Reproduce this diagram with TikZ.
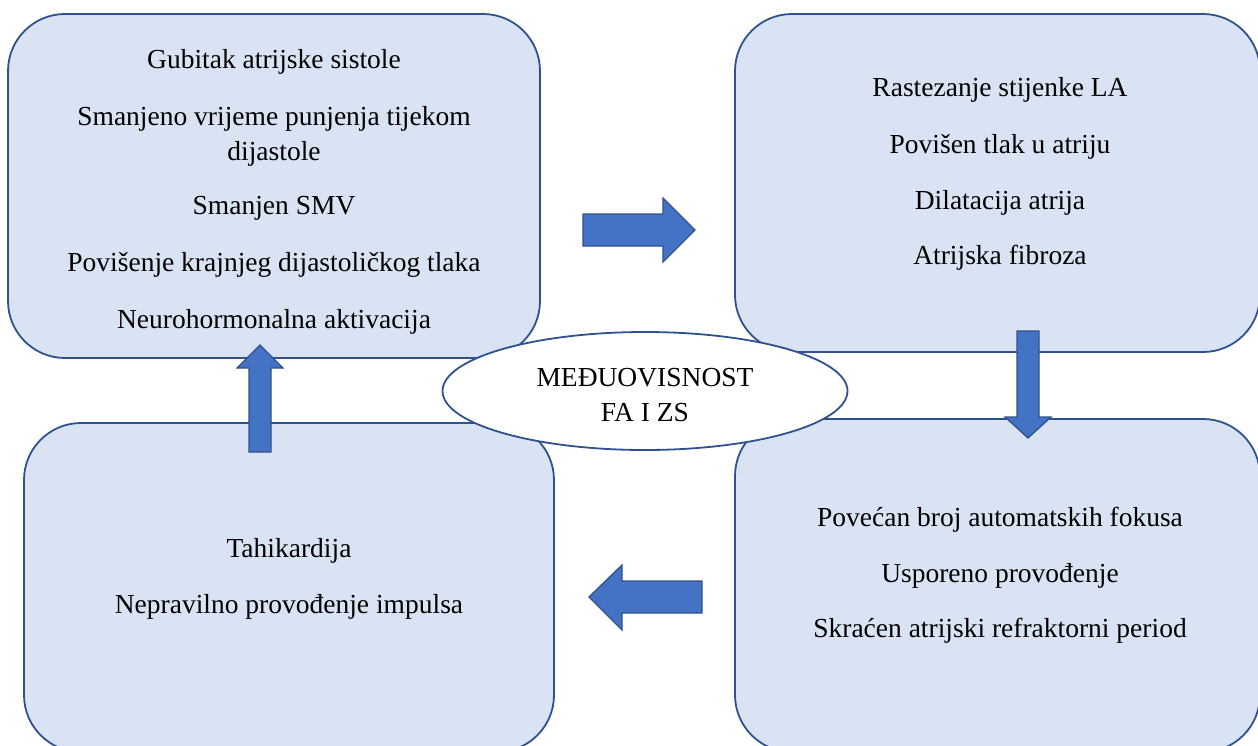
\documentclass[tikz,border=0pt]{standalone}
\usepackage{fontspec}
\setmainfont{Liberation Serif}
\usetikzlibrary{shapes.geometric}
\definecolor{boxfill}{HTML}{DAE3F3}
\definecolor{boxline}{HTML}{2F528F}
\definecolor{arrowfill}{HTML}{4472C4}
\begin{document}
\begin{tikzpicture}[x=1pt,y=-1pt,
  box/.style={draw=boxline, fill=boxfill, line width=1.8pt, rounded corners=57pt, rectangle, inner sep=0pt},
  blockarrow/.style={draw=boxline, fill=arrowfill, line width=1.3pt, line join=miter},
  txt/.style={anchor=base, inner sep=0pt, font=\fontsize{27.5}{35}\selectfont, text=black}]
\useasboundingbox (0,0) rectangle (1258,745);
\begin{scope}
\clip (0,0) rectangle (1258,745);
% boxes
\node[box, minimum width=532pt, minimum height=344pt] (tl) at (274,186) {};
\node[box, minimum width=525pt, minimum height=338pt] (tr) at (997.5,183) {};
\node[box, minimum width=530pt, minimum height=329pt] (bl) at (289,587.5) {};
\node[box, minimum width=525pt, minimum height=333pt] (br) at (997.5,585.5) {};
% texts top-left
\node[txt] (tl1) at (274,68) {Gubitak atrijske sistole};
\node[txt] (tl2) at (274,125) {Smanjeno vrijeme punjenja tijekom};
\node[txt] (tl3) at (274,160) {dijastole};
\node[txt] (tl4) at (274,214) {Smanjen SMV};
\node[txt] (tl5) at (274,271) {Povišenje krajnjeg dijastoličkog tlaka};
\node[txt] (tl6) at (274,328) {Neurohormonalna aktivacija};
% texts top-right
\node[txt] (tr1) at (1000,96) {Rastezanje stijenke LA};
\node[txt] (tr2) at (1000,153) {Povišen tlak u atriju};
\node[txt] (tr3) at (1000,209) {Dilatacija atrija};
\node[txt] (tr4) at (1000,264) {Atrijska fibroza};
% texts bottom-right
\node[txt] (br1) at (1000,526) {Povećan broj automatskih fokusa};
\node[txt] (br2) at (1000,582) {Usporeno provođenje};
\node[txt] (br3) at (1000,637) {Skraćen atrijski refraktorni period};
% texts bottom-left
\node[txt] (bl1) at (289,557) {Tahikardija};
\node[txt] (bl2) at (289,613) {Nepravilno provođenje impulsa};
% block arrows
\draw[blockarrow] (583,214) -- (663,214) -- (663,198) -- (695,230) -- (663,262) -- (663,246) -- (583,246) -- cycle;
\draw[blockarrow] (1017,331) -- (1039,331) -- (1039,417) -- (1051,417) -- (1028,438) -- (1005,417) -- (1017,417) -- cycle;
\draw[blockarrow] (702,581) -- (622,581) -- (622,565) -- (589,597) -- (622,630) -- (622,613) -- (702,613) -- cycle;
\draw[blockarrow] (249,452) -- (249,368) -- (237,368) -- (260,345) -- (283,368) -- (271,368) -- (271,452) -- cycle;
% centre ellipse
\node[ellipse, draw=boxline, fill=white, line width=1.8pt, minimum width=405pt, minimum height=118pt, inner sep=0pt] (mid) at (645,391) {};
\node[txt] (mid1) at (645,386) {MEĐUOVISNOST};
\node[txt] (mid2) at (645,421) {FA I ZS};
\end{scope}
\end{tikzpicture}
\end{document}
